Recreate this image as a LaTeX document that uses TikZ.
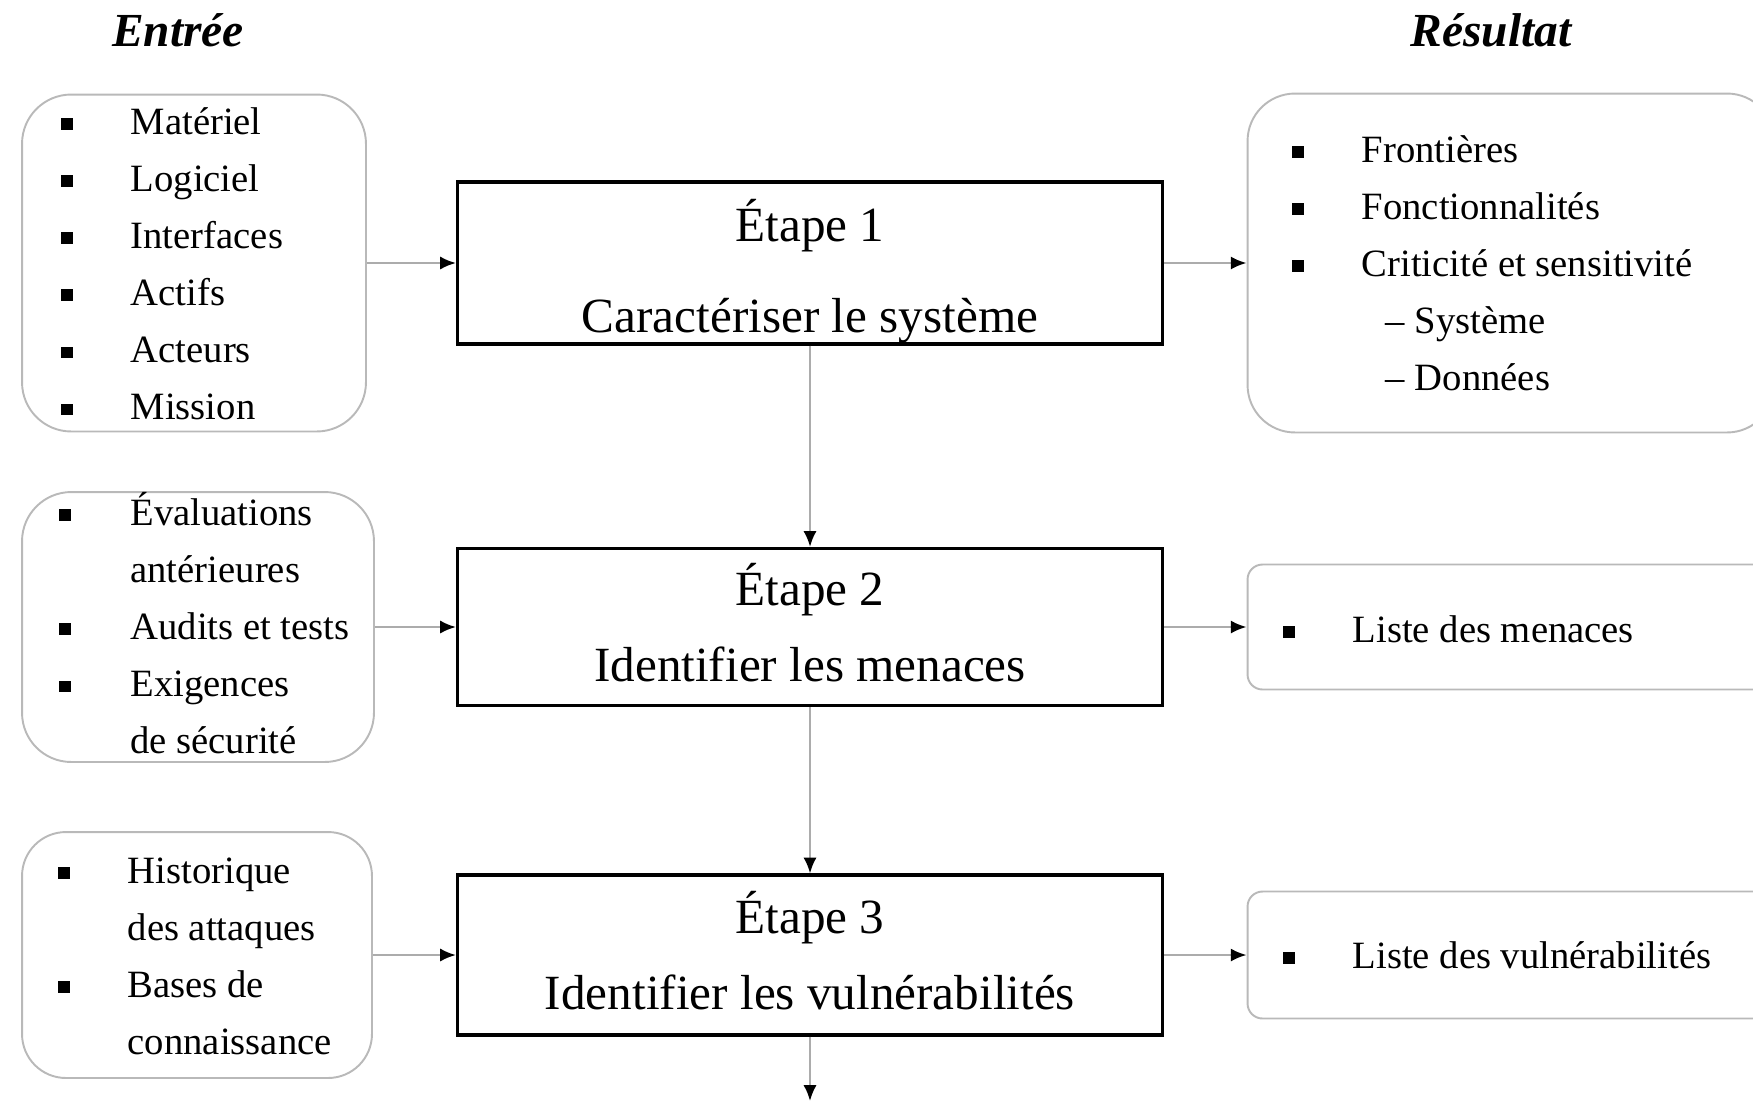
\documentclass[tikz,border=0pt]{standalone}
\usepackage{fontspec}
\setmainfont{Liberation Serif}
\usetikzlibrary{arrows.meta, positioning}

\newcommand{\itm}{\rule[2.5pt]{6.5pt}{6.5pt}}

\begin{document}
\begin{tikzpicture}[
    x=0.02cm, y=-0.02cm,
    stepbox/.style={rectangle, draw=black, line width=1.8pt, inner sep=0pt, minimum width=14.1cm, align=center, font=\fontsize{28}{34}\selectfont},
    listbox/.style={rectangle, draw=gray!55, line width=1.1pt},
    listtext/.style={anchor=base west, inner sep=0pt, font=\fontsize{22}{32.5}\selectfont},
    heading/.style={font=\fontsize{27}{32}\selectfont\bfseries\itshape},
    arrow/.style={-{Latex[length=9pt, width=7.5pt, color=black]}, draw=gray!65, line width=1.4pt}
]
\useasboundingbox (0,0) rectangle (1753,1103);
\clip (0,0) rectangle (1753,1103);

% Headings
\node[heading] (entree) at (178,30) {Entrée};
\node[heading] (resultat) at (1491,30) {Résultat};

% Steps
\node[stepbox, minimum height=3.24cm] (step1) at (810,263) {\rule{0pt}{33pt}Étape 1\\[18pt]Caractériser le système};
\node[stepbox, minimum height=3.14cm] (step2) at (810,627) {Étape 2\\[9pt]Identifier les menaces\rule[-5pt]{0pt}{5pt}};
\node[stepbox, minimum height=3.2cm] (step3) at (810,955) {Étape 3\\[9pt]Identifier les vulnérabilités\rule[-5pt]{0pt}{5pt}};
\coordinate (next) at (810,1101);

% Inputs
\node[listbox, rounded corners=28pt, minimum width=6.88cm, minimum height=6.74cm] (in1) at (194,263) {};
\node[listbox, rounded corners=28pt, minimum width=7.04cm, minimum height=5.4cm] (in2) at (198,627) {};
\node[listbox, rounded corners=25pt, minimum width=7cm, minimum height=4.92cm] (in3) at (197,955) {};
\node[listtext] (in1txt) at (61,134) {\begin{tabular}[t]{@{}p{39.5pt}@{}l@{}}
\itm & Matériel\\ \itm & Logiciel\\ \itm & Interfaces\\ \itm & Actifs\\ \itm & Acteurs\\ \itm & Mission
\end{tabular}};
\node[listtext] (in2txt) at (59,525) {\begin{tabular}[t]{@{}p{40.5pt}@{}l@{}}
\itm & Évaluations\\ & antérieures\\ \itm & Audits et tests\\ \itm & Exigences\\ & de sécurité
\end{tabular}};
\node[listtext] (in3txt) at (58,883) {\begin{tabular}[t]{@{}p{39.5pt}@{}l@{}}
\itm & Historique\\ & des attaques\\ \itm & Bases de\\ & connaissance
\end{tabular}};

% Outputs
\node[listbox, rounded corners=27pt, minimum width=10.54cm, minimum height=6.78cm] (out1) at (1511,263) {};
\node[listbox, rounded corners=8.5pt, minimum width=10.54cm, minimum height=2.5cm] (out2) at (1511,627) {};
\node[listbox, rounded corners=8.5pt, minimum width=10.54cm, minimum height=2.54cm] (out3) at (1511,955) {};
\node[listtext] (out1txt) at (1292,162) {\begin{tabular}[t]{@{}p{39.5pt}@{}l@{}}
\itm & Frontières\\ \itm & Fonctionnalités\\ \itm & Criticité et sensitivité\\
 & \hspace{13.7pt}-- Système\\ & \hspace{13.7pt}-- Données
\end{tabular}};
\node[listtext] (out2txt) at (1283,642) {\begin{tabular}[t]{@{}p{39.5pt}@{}l@{}}
\itm & Liste des menaces
\end{tabular}};
\node[listtext] (out3txt) at (1283,968) {\begin{tabular}[t]{@{}p{39.5pt}@{}l@{}}
\itm & Liste des vulnérabilités
\end{tabular}};

% Arrows
\draw[arrow] (in1) -- (step1);
\draw[arrow] (in2) -- (step2);
\draw[arrow] (in3) -- (step3);
\draw[arrow] (step1) -- (out1);
\draw[arrow] (step2) -- (out2);
\draw[arrow] (step3) -- (out3);
\draw[arrow] (step1) -- (step2);
\draw[arrow] (step2) -- (step3);
\draw[arrow] (step3) -- (next);

\end{tikzpicture}
\end{document}
